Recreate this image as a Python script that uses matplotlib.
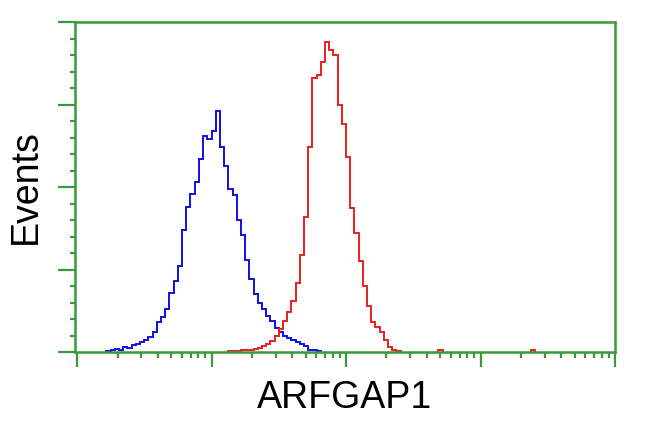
import numpy as np
import matplotlib
matplotlib.use("Agg")
from matplotlib import pyplot as plt
from matplotlib.ticker import LogLocator, MultipleLocator, NullFormatter

# histogram bins are 1/32 of a decade; first bin index of each series
bins_per_decade = 32
blue_start = 7
blue_counts = [0.5, 1, 2, 1.5, 3, 2.5, 4, 5, 6, 7.5, 9, 12, 18, 21, 26, 36, 43, 52,
               74, 88, 96, 103, 117, 131, 129, 134, 146, 124, 113, 99, 95, 80, 71,
               56, 44, 35, 30, 26, 22, 18.5, 14.5, 12, 10, 8.5, 7.5, 6, 5, 3.5,
               1.5, 1, 0.5]
red_start = 36
red_counts = [0.5, 0.5, 0.8, 1, 1, 1.5, 2, 2.2, 3.5, 5, 6.5, 9.5, 14, 18.5, 24, 31,
              42, 59, 82, 124, 166, 168, 176, 188, 183, 180, 150, 138, 118, 87, 72,
              55, 40, 28, 18, 15, 12, 7, 3, 1, 0.5]
# a few stray red events far right (bin index, count)
red_stray = [(86, 1.2), (108, 1.0)]

green = "#3a993a"

fig = plt.figure(figsize=(6.5, 4.32), dpi=100)
ax = fig.add_axes([75/650, 80/432, 540/650, 330/432])

def edges(start, n):
    return 10 ** (np.arange(start, start + n + 1) / bins_per_decade)

ax.stairs(blue_counts, edges(blue_start, len(blue_counts)), color="#1010e0", lw=1.4)
ax.stairs(red_counts, edges(red_start, len(red_counts)), color="#e82020", lw=1.4)
for k, c in red_stray:
    ax.stairs([c], edges(k, 1), color="#e82020", lw=1.4)

ax.set_xscale("log")
ax.set_xlim(10 ** -0.015, 1e4)
ax.set_ylim(0, 200)

ax.xaxis.set_major_locator(LogLocator(base=10, numticks=10))
ax.xaxis.set_minor_locator(LogLocator(base=10, subs=np.arange(2, 10), numticks=10))
ax.xaxis.set_major_formatter(NullFormatter())
ax.xaxis.set_minor_formatter(NullFormatter())
ax.yaxis.set_major_locator(MultipleLocator(50))
ax.yaxis.set_minor_locator(MultipleLocator(10))
ax.yaxis.set_major_formatter(NullFormatter())

for s in ax.spines.values():
    s.set_color(green)
    s.set_linewidth(1.8)

ax.tick_params(axis="y", which="major", direction="out", length=12, width=1.6, color=green)
ax.tick_params(axis="y", which="minor", direction="out", length=3.5, width=1.6, color=green)
ax.tick_params(axis="x", which="major", direction="out", length=11, width=1.6, color=green)
ax.tick_params(axis="x", which="minor", direction="out", length=4, width=1.6, color=green)

ax.set_xlabel("ARFGAP1", fontsize=27, family="Liberation Sans", labelpad=6)
ax.set_ylabel("Events", fontsize=27, family="Liberation Sans", labelpad=7)

fig.savefig("out.png", dpi=100)
